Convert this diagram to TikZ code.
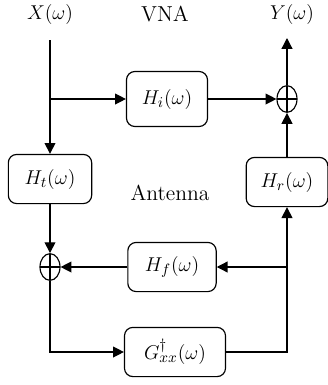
\documentclass[tikz,border=0pt]{standalone}
\usepackage{tikz}
\usetikzlibrary{arrows.meta, shapes.geometric}
\usepackage{amsmath}

\begin{document}
\begin{tikzpicture}[x=0.6pt, y=-0.6pt,
    font=\fontsize{13}{15}\selectfont,
    sig/.style={-{Triangle[length=6.5pt,width=6.5pt]}, line width=0.75pt},
    blockbox/.style={draw, line width=0.7pt, rounded corners=5pt, inner sep=0pt,
        minimum height=29.5pt},
    sumnode/.style={draw, ellipse, line width=0.7pt, inner sep=0pt,
        minimum width=12pt, minimum height=16pt,
        path picture={\draw[line width=0.7pt]
            (path picture bounding box.north) -- (path picture bounding box.south)
            (path picture bounding box.west) -- (path picture bounding box.east);}}]
    \useasboundingbox (0,0) rectangle (327,385);

    % Labels
    \node (xlbl) at (50,14) {$X(\omega)$};
    \node (vna) at (165,14) {VNA};
    \node (ylbl) at (292,14) {$Y(\omega)$};
    \node (ant) at (170,193) {Antenna};

    % Blocks
    \node[blockbox, minimum width=48.6pt, minimum height=33pt] (hi) at (167,99) {$H_i(\omega)$};
    \node[blockbox, minimum width=50pt] (ht) at (50,179) {$H_t(\omega)$};
    \node[blockbox, minimum width=49pt] (hr) at (287,182) {$H_r(\omega)$};
    \node[blockbox, minimum width=53pt] (hf) at (172,267) {$H_f(\omega)$};
    \node[blockbox, minimum width=60.6pt] (gxx) at (175,352) {$G^{\dagger}_{xx}(\omega)$};

    % Summing junctions
    \node[sumnode] (sumr) at (287,99) {};
    \node[sumnode] (suml) at (50,267) {};

    \coordinate (xin) at (50,40);
    \coordinate (split) at (50,99);
    \coordinate (yout) at (287,38);
    \coordinate (tap) at (287,267);

    % Direct path
    \draw[sig] (xin) -- (ht);
    \draw[sig] (split) -- (hi);
    \draw[sig] (hi) -- (sumr);
    \draw[sig] (sumr) -- (yout);

    % Antenna loop
    \draw[sig] (ht) -- (suml);
    \draw[sig] (suml) |- (gxx);
    \draw[sig] (gxx) -| (hr);
    \draw[sig] (hr) -- (sumr);
    \draw[sig] (tap) -- (hf);
    \draw[sig] (hf) -- (suml);
\end{tikzpicture}
\end{document}
